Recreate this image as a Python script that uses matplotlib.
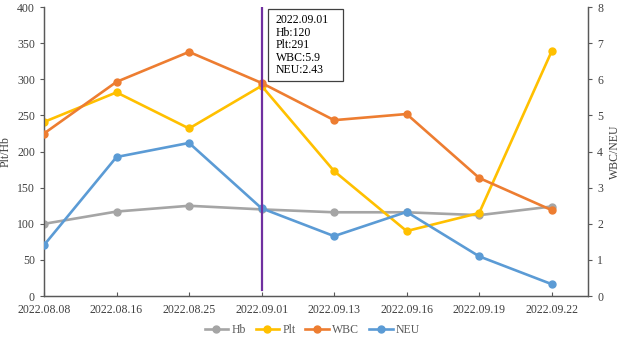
import matplotlib
matplotlib.use("Agg")
import matplotlib.pyplot as plt
from matplotlib.patches import Rectangle

dates = ["2022.08.08", "2022.08.16", "2022.08.25", "2022.09.01",
         "2022.09.13", "2022.09.16", "2022.09.19", "2022.09.22"]
hb = [100, 117, 125, 120, 116, 116, 112, 124]
plt_vals = [241, 282, 232, 291, 173, 90, 115, 339]
wbc = [4.5, 5.93, 6.76, 5.9, 4.87, 5.04, 3.27, 2.38]
neu = [1.41, 3.85, 4.24, 2.43, 1.66, 2.33, 1.1, 0.33]

left_ticks = [0, 50, 100, 150, 200, 250, 300, 350, 400]
right_ticks = [0, 1, 2, 3, 4, 5, 6, 7, 8]

c_hb = "#A5A5A5"
c_plt = "#FFC000"
c_wbc = "#ED7D31"
c_neu = "#5B9BD5"
c_mark = "#7030A0"
axis_col = "#595959"
text_col = "#404040"

plt.rcParams['font.family'] = ['Liberation Serif', 'DejaVu Serif']
plt.rcParams['font.size'] = 8.5

fig = plt.figure(figsize=(6.22, 3.38), dpi=100)
ax = fig.add_axes([0.0707, 0.124, 0.8746, 0.855])
ax2 = ax.twinx()

x = list(range(len(dates)))
lw = 1.9
ms = 5
l1, = ax.plot(x, hb, color=c_hb, lw=lw, marker='o', ms=ms, label='Hb', zorder=3)
l2, = ax.plot(x, plt_vals, color=c_plt, lw=lw, marker='o', ms=ms, label='Plt', zorder=3)
l3, = ax2.plot(x, wbc, color=c_wbc, lw=lw, marker='o', ms=ms, label='WBC', zorder=3)
l4, = ax2.plot(x, neu, color=c_neu, lw=lw, marker='o', ms=ms, label='NEU', zorder=3)

ax.set_xlim(0, len(dates) - 0.5)
ax.set_ylim(0, 400)
ax2.set_ylim(0, 8)
ax.set_yticks(left_ticks)
ax2.set_yticks(right_ticks)
ax.set_xticks(x)
ax.set_xticklabels(dates)

for a in (ax, ax2):
    a.spines['top'].set_visible(False)
    for s in ('left', 'right', 'bottom'):
        a.spines[s].set_color(axis_col)
        a.spines[s].set_linewidth(0.9)
    a.tick_params(colors=axis_col, labelcolor=text_col, length=3, width=0.8)
ax.tick_params(axis='x', direction='in', pad=6)
ax.tick_params(axis='y', direction='out')
ax2.tick_params(axis='y', direction='out')

ax.set_ylabel("Plt/Hb", color=text_col, labelpad=4)
ax2.set_ylabel("WBC/NEU", color=text_col, labelpad=4)

ax2.axvline(3, ymin=0.02, ymax=1.0, color=c_mark, lw=1.6, zorder=5)
ax2.add_patch(Rectangle((3.087, 5.95), 1.033, 1.99, fc='white', ec=text_col,
                        lw=0.9, zorder=6))
ax2.text(3.197, 7.8, "2022.09.01\nHb:120\nPlt:291\nWBC:5.9\nNEU:2.43",
         va='top', ha='left', fontsize=8.5, linespacing=1.05, zorder=7,
         color='black')

fig.legend(handles=[l1, l2, l3, l4], loc='center', bbox_to_anchor=(0.502, 0.024),
           ncol=4, frameon=False, handlelength=2.0, columnspacing=0.85,
           handletextpad=0.25, fontsize=8.5, labelcolor=axis_col)

fig.savefig("out.png", dpi=100)
